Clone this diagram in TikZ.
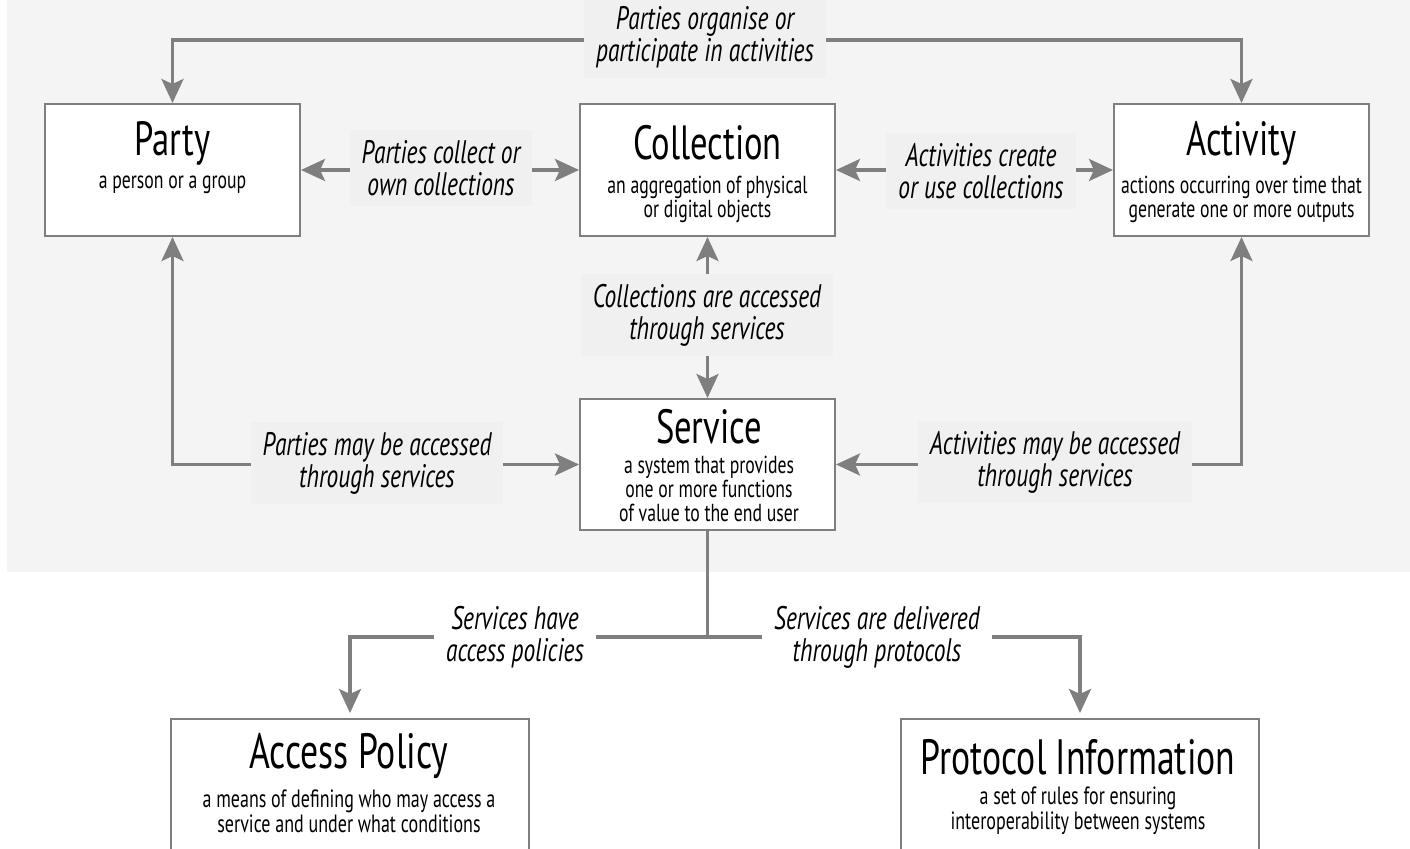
\documentclass[tikz,border=0pt]{standalone}
\usepackage{fontspec}
\setmainfont{PT Sans}[FakeStretch=0.72]
\usetikzlibrary{arrows.meta}
\definecolor{bgc}{HTML}{F4F4F4}
\definecolor{lblc}{HTML}{F0F0F0}
\definecolor{linec}{HTML}{7F7F7F}
\tikzset{
  ent/.style={draw=linec, line width=1pt, fill=white, minimum width=127.5pt, minimum height=66pt, inner sep=0pt},
  ttl/.style={font=\fontsize{24}{26}\selectfont, inner sep=0pt},
  bttl/.style={font=\fontsize{24.8}{27}\selectfont, inner sep=0pt},
  sub/.style={font=\fontsize{12.3}{12}\selectfont, align=center, inner sep=0pt},
  bsub/.style={font=\fontsize{12.5}{12.5}\selectfont, align=center, inner sep=0pt},
  lbl/.style={font=\fontsize{16.3}{16}\selectfont\itshape, align=center, fill=lblc, inner xsep=6pt, inner ysep=5pt},
  wlbl/.style={lbl, fill=white},
  conn/.style={draw=linec, line width=1.7pt, arrows={Stealth[length=12pt, width=11pt, inset=2.5pt]-Stealth[length=12pt, width=11pt, inset=2.5pt]}},
  conne/.style={draw=linec, line width=1.7pt, -{Stealth[length=12pt, width=11pt, inset=2.5pt]}},
  plain/.style={draw=linec, line width=1.7pt},
}
\begin{document}
\begin{tikzpicture}[x=0.5pt, y=-0.5pt]
\useasboundingbox (0,0) rectangle (1410,849);
\fill[white] (0,0) rectangle (1410,849);
\fill[bgc] (7,0) rectangle (1410,572);

% entity boxes
\node[ent] (party) at (172.5,170) {};
\node[ent] (collection) at (707.5,170) {};
\node[ent] (activity) at (1241.5,170) {};
\node[ent, minimum height=65.5pt] (service) at (707.5,464.5) {};
\node[fill=white, minimum width=179pt, minimum height=65pt, inner sep=0pt, anchor=north] (access) at (350,719) {};
\node[fill=white, minimum width=179pt, minimum height=65pt, inner sep=0pt, anchor=north] (protocol) at (1080,719) {};
\draw[linec, line width=1pt] (access.south west) -- (access.north west) -- (access.north east) -- (access.south east);
\draw[linec, line width=1pt] (protocol.south west) -- (protocol.north west) -- (protocol.north east) -- (protocol.south east);

% texts in boxes
\node[ttl] (partyT) at (172.5,143) {Party};
\node[sub] (partyS) at (172.5,185) {a person or a group};
\node[ttl] (collT) at (707.5,143) {Collection};
\node[sub] (collS) at (707.5,199) {an aggregation of physical\\or digital objects};
\node[ttl] (actT) at (1241.5,143) {Activity};
\node[sub] (actS) at (1241.5,199) {actions occurring over time that\\generate one or more outputs};
\node[ttl] (servT) at (709,427) {Service};
\node[sub] (servS) at (709,489) {a system that provides\\one or more functions\\of value to the end user};
\node[bttl] (accT) at (349,756) {Access Policy};
\node[bsub] (accS) at (349,811) {a means of defining who may access a\\service and under what conditions};
\node[bttl] (protT) at (1078,757) {Protocol Information};
\node[bsub] (protS) at (1078,811) {a set of rules for ensuring\\interoperability between systems};

% connectors
\coordinate (topj) at (705,40);
\draw[conn] (party.north) |- (topj) -| (activity.north);
\draw[conn] (party.east) -- (collection.west);
\draw[conn] (collection.east) -- (activity.west);
\draw[conn] (collection.south) -- (service.north);
\draw[conn] (party.south) |- (service.west);
\draw[conn] (activity.south) |- (service.east);
\coordinate (botj) at (707.5,637);
\draw[plain] (service.south) -- (botj);
\draw[conne, shorten >=3pt] (botj) -| (access.north);
\draw[conne, shorten >=3pt] (botj) -| (protocol.north);

% labels
\node[lbl] (l1) at (705,37) {Parties organise or\\participate in activities};
\node[lbl] (l2) at (441,168) {Parties collect or\\own collections};
\node[lbl] (l3) at (981,171) {Activities create\\or use collections};
\node[lbl] (l4) at (707,315) {Collections are accessed\\through services};
\node[lbl] (l5) at (377,463) {Parties may be accessed\\through services};
\node[lbl] (l6) at (1055,462) {Activities may be accessed\\through services};
\node[wlbl] (l7) at (515,637) {Services have\\access policies};
\node[wlbl] (l8) at (877,637) {Services are delivered\\through protocols};
\end{tikzpicture}
\end{document}
